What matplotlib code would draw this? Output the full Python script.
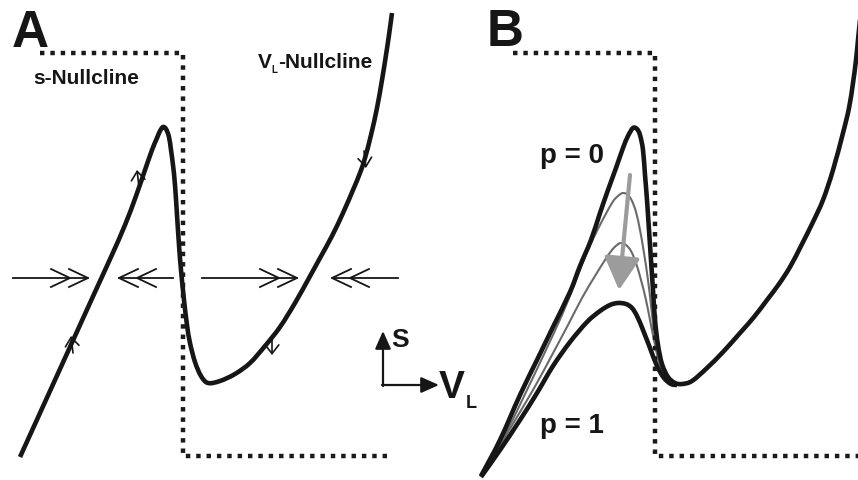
import matplotlib.pyplot as plt
from matplotlib.path import Path
from matplotlib.patches import PathPatch

# panel A: V_L-nullcline (pixel coords, y grows downward)
a_x = [20, 45, 70, 95, 111, 125, 136, 145, 152, 157, 160, 163, 166, 169, 171, 173, 175, 177, 179, 181,
       184, 187, 190, 195, 201, 208, 220, 235, 250, 265, 280, 295, 309, 320, 332, 343, 353, 360, 365,
       371, 377, 382, 386, 389, 392]
a_y = [457, 402, 347, 292, 257, 225, 196, 170, 150, 138, 131, 127, 129, 137, 150, 165, 185, 215, 245, 270,
       300, 325, 343, 362, 376, 383, 381, 374, 363, 346, 327, 303, 278, 258, 236, 213, 190, 173, 158,
       135, 108, 80, 55, 35, 13]

# panel A: s-nullcline (step)
sa_x = [40, 183, 183, 390]
sa_y = [53, 53, 456, 456]

# panel B: s-nullcline (step)
sb_x = [513, 655, 655, 858]
sb_y = [53, 53, 456, 456]

# panel B: p = 0
p0_x = [481, 500, 520, 537, 553, 570, 580, 591, 600, 608, 616, 623, 628, 633, 637, 640, 643, 645, 647, 649,
        651, 653, 655, 658, 662, 668, 675, 682, 692, 707, 723, 740, 754, 767, 779, 790, 801, 812, 823,
        833, 843, 849, 853, 856, 858, 860]
p0_y = [476, 440, 395, 360, 327, 292, 266, 240, 213, 190, 168, 148, 136, 128, 129, 135, 150, 175, 200, 230,
        260, 290, 320, 345, 364, 377, 383, 384, 381, 368, 352, 333, 317, 300, 284, 267, 246, 224, 200,
        170, 133, 108, 83, 60, 40, 20]

# panel B: intermediate p (grey)
g1_x = [483, 505, 527, 545, 562, 575, 587, 600, 612, 618, 623, 628, 632, 636, 640, 644, 648, 651, 654, 657,
        661, 668, 677]
g1_y = [475, 435, 390, 352, 315, 283, 252, 225, 203, 196, 193, 195, 201, 212, 230, 253, 280, 305, 332, 352,
        368, 380, 385]
g2_x = [483, 508, 533, 552, 568, 582, 595, 605, 612, 617, 621, 626, 631, 636, 641, 646, 650, 654, 658, 663,
        670, 677]
g2_y = [475, 432, 390, 355, 325, 298, 276, 260, 250, 245, 243, 245, 251, 263, 280, 300, 320, 340, 358, 372,
        381, 385]

# panel B: p = 1
p1_x = [481, 500, 520, 537, 553, 570, 587, 600, 610, 618, 626, 632, 637, 643, 650, 657, 664, 671, 677]
p1_y = [477, 450, 420, 393, 366, 342, 322, 311, 305, 303, 304, 308, 316, 330, 348, 366, 378, 384, 385]

# horizontal double-headed flow arrows (tail x, tip x) on y = 278
flow_y = 278
flow_tail = [13, 173, 202, 398]
flow_tip = [88, 119, 297, 332]

# small vertical flow arrows on the V_L-nullcline (tail, tip)
small_tail = [(139, 187), (73, 353), (364, 151), (272, 337)]
small_tip = [(137, 170), (71, 336), (366, 168), (272, 355)]


def smooth_path(xs, ys):
    # cubic bezier through the read points (catmull-rom tangents)
    pts = list(zip(xs, ys))
    n = len(pts)
    verts = [pts[0]]
    codes = [Path.MOVETO]
    for i in range(n - 1):
        p0 = pts[max(i - 1, 0)]
        p1 = pts[i]
        p2 = pts[i + 1]
        p3 = pts[min(i + 2, n - 1)]
        c1 = (p1[0] + (p2[0] - p0[0]) / 6, p1[1] + (p2[1] - p0[1]) / 6)
        c2 = (p2[0] - (p3[0] - p1[0]) / 6, p2[1] - (p3[1] - p1[1]) / 6)
        verts += [c1, c2, p2]
        codes += [Path.CURVE4] * 3
    return Path(verts, codes)


def curve(ax, xs, ys, color, lw):
    ax.add_patch(PathPatch(smooth_path(xs, ys), fill=False, edgecolor=color, lw=lw,
                           joinstyle='round', capstyle='butt'))


fig = plt.figure(figsize=(8.58, 4.8), dpi=100)
ax = fig.add_axes([0, 0, 1, 1])
ax.set_xlim(0, 858)
ax.set_ylim(480, 0)
ax.axis('off')

dot = (0, (1, 1.33))
ax.plot(sa_x, sa_y, color='#1a1a1a', lw=3.2, ls=dot, dash_capstyle='butt')
ax.plot(sb_x, sb_y, color='#1a1a1a', lw=3.2, ls=dot, dash_capstyle='butt')

blk = '#161616'
curve(ax, a_x, a_y, blk, 3.3)

curve(ax, g1_x, g1_y, '#6a6a6a', 1.5)
curve(ax, g2_x, g2_y, '#6a6a6a', 1.5)
ax.annotate('', xy=(619, 290), xytext=(630, 175),
            arrowprops=dict(arrowstyle='-|>,head_length=1.0,head_width=0.55', mutation_scale=20,
                            color='#9c9c9c', lw=3.0, shrinkA=0, shrinkB=0))
curve(ax, p0_x, p0_y, blk, 3.3)
curve(ax, p1_x, p1_y, blk, 3.3)

# flow arrows with double open chevrons
for t0, t1 in zip(flow_tail, flow_tip):
    d = 1 if t1 > t0 else -1
    ax.plot([t0, t1], [flow_y, flow_y], color=blk, lw=1.3)
    for k in range(2):
        tx = t1 - d * 18 * k
        ax.plot([tx - d * 19, tx, tx - d * 19], [flow_y - 9, flow_y, flow_y + 9],
                color=blk, lw=1.3, solid_joinstyle='miter')

for (x0, y0), (x1, y1) in zip(small_tail, small_tip):
    ax.annotate('', xy=(x1, y1), xytext=(x0, y0),
                arrowprops=dict(arrowstyle='->,head_length=0.45,head_width=0.35', mutation_scale=14,
                                color=blk, lw=1.2, shrinkA=0, shrinkB=0))

# S / V_L axis indicator
ax.annotate('', xy=(383, 331), xytext=(383, 386),
            arrowprops=dict(arrowstyle='-|>,head_length=0.9,head_width=0.4', mutation_scale=12,
                            color=blk, lw=1.6, shrinkA=0, shrinkB=0))
ax.annotate('', xy=(439, 385), xytext=(382, 385),
            arrowprops=dict(arrowstyle='-|>,head_length=0.9,head_width=0.4', mutation_scale=12,
                            color=blk, lw=1.6, shrinkA=0, shrinkB=0))

fam = 'Liberation Sans'
kw = dict(family=fam, weight='bold', color=blk, ha='left', va='baseline')
ax.text(12, 47, 'A', fontsize=37, **kw)
ax.text(487, 46, 'B', fontsize=37, **kw)
ax.text(33, 84, 's-Nullcline', fontsize=15, **kw)
ax.text(258, 68, 'V', fontsize=15, **kw)
ax.text(271, 73, 'L', fontsize=7, **kw)
ax.text(278, 68, '-Nullcline', fontsize=15, **kw)
ax.text(391, 347, 'S', fontsize=19, **kw)
ax.text(439, 398, 'V', fontsize=28, **kw)
ax.text(466, 408, 'L', fontsize=13, **kw)
ax.text(540, 163, 'p = 0', fontsize=20, **kw)
ax.text(540, 433, 'p = 1', fontsize=20, **kw)

fig.savefig('out.png', dpi=100)
